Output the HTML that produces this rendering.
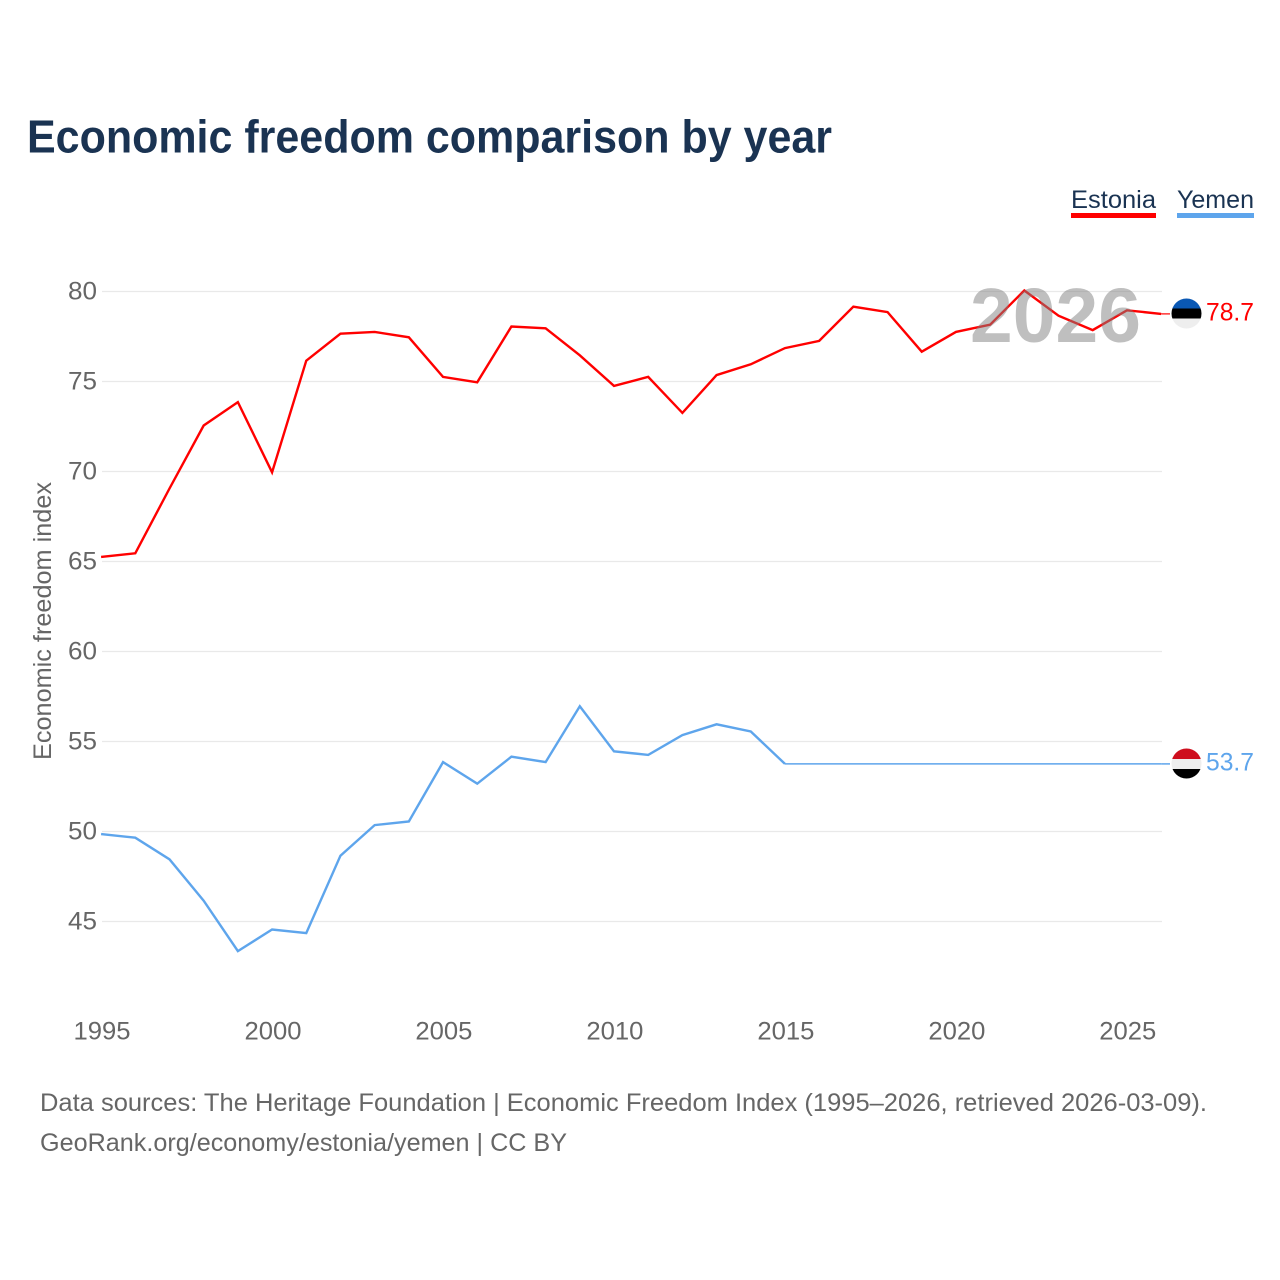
<!DOCTYPE html>
<html lang="en">
<head>
<meta charset="utf-8">
<title>Economic freedom comparison by year</title>
<style>
html,body{margin:0;padding:0;background:#fff;width:1280px;height:1280px;overflow:hidden}
svg{display:block}
text{font-family:"Liberation Sans",sans-serif}
</style>
</head>
<body>
<svg id="chart" width="1280" height="1280" viewBox="0 0 1280 1280" xmlns="http://www.w3.org/2000/svg">
  <text x="27" y="152.5" font-size="46" font-weight="700" fill="#1a3352" textLength="805" lengthAdjust="spacingAndGlyphs">Economic freedom comparison by year</text>

  <g>
    <g>
      <text x="1071" y="208" font-size="25" fill="#1a3352" textLength="85" lengthAdjust="spacingAndGlyphs">Estonia</text>
      <rect x="1071" y="213" width="85" height="5" fill="#ff0000"></rect>
    </g>
    <g>
      <text x="1177" y="208" font-size="25" fill="#1a3352" textLength="77" lengthAdjust="spacingAndGlyphs">Yemen</text>
      <rect x="1177" y="213" width="77" height="5" fill="#5ea5ec"></rect>
    </g>
  </g>

  <g id="grid"></g>
  <g id="yticks"></g>
  <g id="xticks"></g>
  <text transform="translate(51,621) rotate(-90)" text-anchor="middle" font-size="25" fill="#666666" textLength="278" lengthAdjust="spacingAndGlyphs">Economic freedom index</text>

  <g id="series"></g>

  <text x="970" y="342" font-size="77" font-weight="700" fill="#808080" fill-opacity="0.5" textLength="171" lengthAdjust="spacingAndGlyphs">2026</text>

  <defs>
    <clipPath id="clip-estonia"><circle cx="1186.5" cy="313.5" r="15"></circle></clipPath>
    <clipPath id="clip-yemen"><circle cx="1186.5" cy="763.5" r="15"></circle></clipPath>
  </defs>

  <g clip-path="url(#clip-estonia)">
    <rect x="1170" y="298" width="33" height="10.5" fill="#0a58b4"></rect>
    <rect x="1170" y="308.5" width="33" height="10" fill="#000000"></rect>
    <rect x="1170" y="318.5" width="33" height="11" fill="#eeeeee"></rect>
  </g>
  <g clip-path="url(#clip-yemen)">
    <rect x="1170" y="748" width="33" height="11" fill="#ce0f1e"></rect>
    <rect x="1170" y="759" width="33" height="10" fill="#eeeeee"></rect>
    <rect x="1170" y="769" width="33" height="11" fill="#000000"></rect>
  </g>

  <text id="label-estonia" x="1206" y="320.5" font-size="25" fill="#ff0000" textLength="48" lengthAdjust="spacingAndGlyphs"></text>
  <text id="label-yemen" x="1206" y="770.5" font-size="25" fill="#5ea5ec" textLength="48" lengthAdjust="spacingAndGlyphs"></text>

  <g>
    <text x="40" y="1111" font-size="25" fill="#666666" textLength="1167" lengthAdjust="spacingAndGlyphs">Data sources: The Heritage Foundation | Economic Freedom Index (1995–2026, retrieved 2026-03-09).</text>
    <text x="40" y="1151" font-size="25" fill="#666666" textLength="527" lengthAdjust="spacingAndGlyphs">GeoRank.org/economy/estonia/yemen | CC BY</text>
  </g>
</svg>
<script>
const years = [1995,1996,1997,1998,1999,2000,2001,2002,2003,2004,2005,2006,2007,2008,2009,2010,2011,2012,2013,2014,2015,2016,2017,2018,2019,2020,2021,2022,2023,2024,2025,2026];
const estonia = [65.2,65.4,69,72.5,73.8,69.9,76.1,77.6,77.7,77.4,75.2,74.9,78,77.9,76.4,74.7,75.2,73.2,75.3,75.9,76.8,77.2,79.1,78.8,76.6,77.7,78.1,80,78.6,77.8,78.9,78.7];
const yemen = [49.8,49.6,48.4,46.1,43.3,44.5,44.3,48.6,50.3,50.5,53.8,52.6,54.1,53.8,56.9,54.4,54.2,55.3,55.9,55.5,53.7,53.7,53.7,53.7,53.7,53.7,53.7,53.7,53.7,53.7,53.7,53.7];
const yTickValues = [45,50,55,60,65,70,75,80];
const xTickValues = [1995,2000,2005,2010,2015,2020,2025];

const NS = 'http://www.w3.org/2000/svg';
function xScale(year) { return 102 + (year - 1995) * (1162 - 102) / 31; }
function yScale(v) { return 291.5 + (80 - v) * 18; }
function lineX(year) { return xScale(year) - 0.9; }
function lineY(v) { return yScale(v) - 1; }
function mk(tag, parent, props) {
  const el = document.createElementNS(NS, tag);
  for (const k in props) el.setAttribute(k, props[k]);
  parent.appendChild(el);
  return el;
}

const grid = document.getElementById('grid');
const yG = document.getElementById('yticks');
const xG = document.getElementById('xticks');
const seriesG = document.getElementById('series');

yTickValues.forEach(function (v) {
  const line = mk('line', grid, {x1: 102, x2: 1162, y1: yScale(v), y2: yScale(v), stroke: '#e9e9e9', 'stroke-width': 1.2});
  
  
  const t = mk('text', yG, {x: 97, y: yScale(v) + 8, 'text-anchor': 'end', 'font-size': 25, fill: '#666666', textLength: 29, lengthAdjust: 'spacingAndGlyphs'});
  
  
  t.textContent = v;
});

xTickValues.forEach(function (yr) {
  const t = mk('text', xG, {x: xScale(yr), y: 1039.5, 'text-anchor': 'middle', 'font-size': 25, fill: '#666666', textLength: 57, lengthAdjust: 'spacingAndGlyphs'});
  
  
  t.textContent = yr;
});

function linePath(values, wantFlat) {
  let d = '';
  let penUp = true;
  for (let i = 1; i < values.length; i++) {
    const flat = values[i] === values[i - 1];
    if (flat === wantFlat) {
      if (penUp) d += 'M' + lineX(years[i - 1]).toFixed(2) + ' ' + lineY(values[i - 1]).toFixed(2);
      d += 'L' + lineX(years[i]).toFixed(2) + ' ' + lineY(values[i]).toFixed(2);
      penUp = false;
    } else {
      penUp = true;
    }
  }
  return d;
}

const estLine = mk('path', seriesG, {d: linePath(estonia, false), fill: 'none', stroke: '#ff0000', 'stroke-width': 2.4, 'stroke-linejoin': 'miter'});


const yemLine = mk('path', seriesG, {d: linePath(yemen, false), fill: 'none', stroke: '#5ea5ec', 'stroke-width': 2.4, 'stroke-linejoin': 'miter'});


const yemFlat = mk('path', seriesG, {d: linePath(yemen, true), fill: 'none', stroke: '#5ea5ec', 'stroke-width': 1.5});



const lastE = estonia[estonia.length - 1];
const lastY = yemen[yemen.length - 1];
const estConn = mk('line', seriesG, {x1: lineX(2026), x2: 1170, y1: lineY(lastE), y2: lineY(lastE), stroke: '#ff0000', 'stroke-width': 1.2});


const yemConn = mk('line', seriesG, {x1: lineX(2026), x2: 1170, y1: lineY(lastY), y2: lineY(lastY), stroke: '#5ea5ec', 'stroke-width': 1.5});



document.getElementById('label-estonia').textContent = lastE.toFixed(1);
document.getElementById('label-yemen').textContent = lastY.toFixed(1);
</script>
</body>
</html>
